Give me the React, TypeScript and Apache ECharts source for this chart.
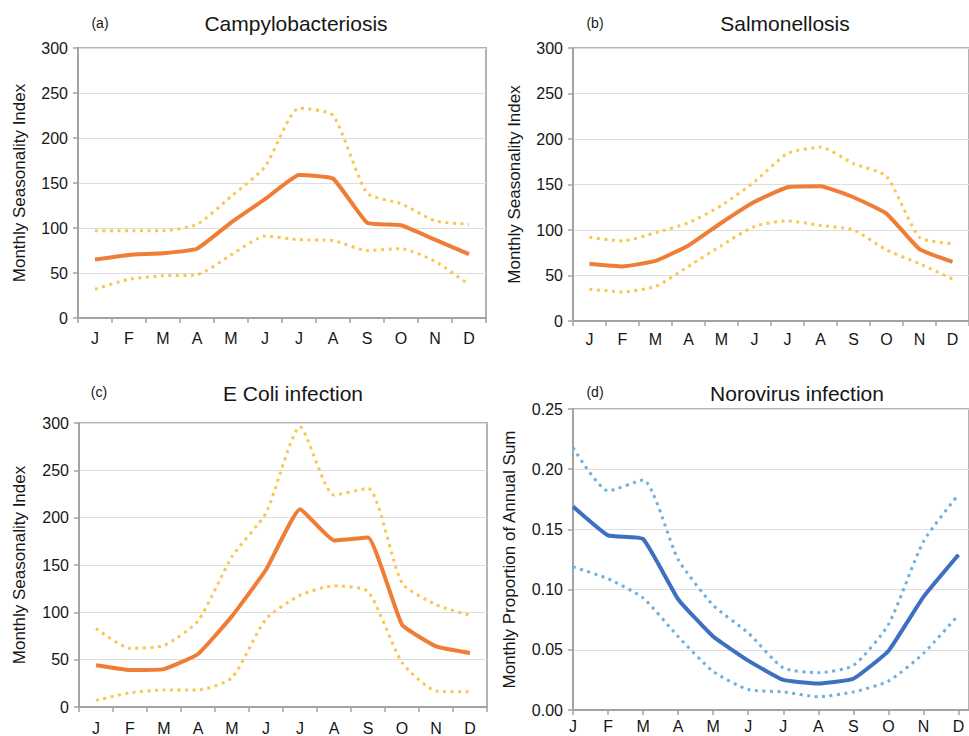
import React, { useEffect, useRef } from "react";
import * as echarts from "echarts";

const MONTHS = ["J", "F", "M", "A", "M", "J", "J", "A", "S", "O", "N", "D"];

const campyMean = [65, 70, 72, 77, 106, 132, 159, 155, 106, 103, 87, 71];
const campyUpper = [97, 97, 97, 104, 135, 168, 233, 225, 139, 127, 108, 104];
const campyLower = [32, 43, 47, 48, 70, 91, 87, 86, 75, 77, 63, 37];

const salmMean = [63, 60, 66, 83, 108, 131, 147, 148, 136, 118, 79, 65];
const salmUpper = [92, 88, 97, 108, 127, 153, 184, 191, 173, 159, 92, 85];
const salmLower = [35, 32, 38, 60, 83, 104, 110, 105, 100, 78, 63, 46];

const ecoliMean = [44, 39, 40, 56, 96, 145, 209, 176, 179, 87, 64, 57];
const ecoliUpper = [83, 62, 65, 91, 159, 205, 296, 224, 231, 131, 108, 97];
const ecoliLower = [7, 15, 18, 18, 31, 93, 118, 128, 122, 47, 17, 16];

const noroMean = [0.169, 0.145, 0.142, 0.092, 0.061, 0.041, 0.025, 0.022, 0.026, 0.049, 0.094, 0.129];
const noroUpper = [0.218, 0.182, 0.191, 0.125, 0.087, 0.064, 0.035, 0.031, 0.037, 0.071, 0.14, 0.179];
const noroLower = [0.119, 0.109, 0.093, 0.061, 0.032, 0.017, 0.015, 0.011, 0.015, 0.024, 0.047, 0.079];

const INDEX_TICKS = { min: 0, max: 300, interval: 50 };
const NORO_TICKS = { min: 0, max: 0.25, interval: 0.05 };

const FONT = "'Liberation Sans', Arial, sans-serif";
const ORANGE = "#EF7D35";
const YELLOW = "#FAC64E";
const BLUE = "#3D70C2";
const LIGHTBLUE = "#6CB1E2";
const AXIS = "#A3A3A3";
const GRIDLINE = "#DEDEDE";
const TEXT = "#161616";

export default function App() {
  const ref = useRef<HTMLDivElement>(null);

  useEffect(() => {
    if (!ref.current) return;
    const chart = echarts.init(ref.current, undefined, { renderer: "svg" });

    const grids = [
      { left: 78, top: 48, width: 408, height: 270 },
      { left: 573, top: 48, width: 408, height: 273 },
      { left: 79, top: 423, width: 408, height: 285 },
      { left: 573, top: 409, width: 400, height: 301 },
    ].map((g) => ({
      ...g,
      show: true,
      borderColor: "#B3B3B3",
      borderWidth: 2,
      backgroundColor: "transparent",
      containLabel: false,
    }));

    const labelMargins = [12, 10, 13, 8];
    const xAxes: any[] = [0, 1, 2].map((i) => ({
      type: "category",
      gridIndex: i,
      data: MONTHS,
      boundaryGap: true,
      axisLine: { lineStyle: { color: AXIS, width: 2 } },
      axisTick: { show: true, length: 5, lineStyle: { color: AXIS, width: 1.5 } },
      axisLabel: { color: TEXT, fontSize: 16, fontFamily: FONT, margin: labelMargins[i], interval: 0 },
      splitLine: { show: false },
    }));
    xAxes.push({
      type: "value",
      gridIndex: 3,
      min: 0,
      max: 11.3,
      interval: 1,
      axisLine: { lineStyle: { color: AXIS, width: 2 } },
      axisTick: { show: true, length: 5, lineStyle: { color: AXIS, width: 1.5 } },
      axisLabel: {
        color: TEXT,
        fontSize: 16,
        fontFamily: FONT,
        margin: labelMargins[3],
        showMaxLabel: false,
        formatter: (v: number) => (Number.isInteger(v) && v >= 0 && v < 12 ? MONTHS[v] : ""),
      },
      splitLine: { show: false },
    });

    const yNameGaps = [50, 50, 51, 55];
    const yAxes: any[] = [0, 1, 2, 3].map((i) => {
      const t = i === 3 ? NORO_TICKS : INDEX_TICKS;
      return {
        type: "value",
        gridIndex: i,
        min: t.min,
        max: t.max,
        interval: t.interval,
        name: i === 3 ? "Monthly Proportion of Annual Sum" : "Monthly Seasonality Index",
        nameLocation: "middle",
        nameGap: yNameGaps[i],
        nameTextStyle: { color: TEXT, fontSize: 17, fontFamily: FONT },
        axisLine: { show: true, lineStyle: { color: AXIS, width: 2 } },
        axisTick: { show: true, length: 5, lineStyle: { color: AXIS, width: 1.5 } },
        axisLabel: {
          color: TEXT,
          fontSize: 16,
          fontFamily: FONT,
          margin: 10,
          formatter: i === 3 ? (v: number) => v.toFixed(2) : (v: number) => String(v),
        },
        splitLine: { show: true, lineStyle: { color: GRIDLINE, width: 1 } },
      };
    });

    const panels = [
      { mean: campyMean, upper: campyUpper, lower: campyLower, c1: ORANGE, c2: YELLOW },
      { mean: salmMean, upper: salmUpper, lower: salmLower, c1: ORANGE, c2: YELLOW },
      { mean: ecoliMean, upper: ecoliUpper, lower: ecoliLower, c1: ORANGE, c2: YELLOW },
      { mean: noroMean, upper: noroUpper, lower: noroLower, c1: BLUE, c2: LIGHTBLUE },
    ];

    const series: any[] = [];
    panels.forEach((p, i) => {
      const toData = (arr: number[]) => (i === 3 ? arr.map((v, k) => [k, v]) : arr);
      const common = {
        type: "line",
        xAxisIndex: i,
        yAxisIndex: i,
        symbol: "none",
        silent: true,
      };
      series.push({
        ...common,
        data: toData(p.upper),
        smooth: 0.2,
        lineStyle: { color: p.c2, width: 3, type: [3, 4.5] },
      });
      series.push({
        ...common,
        data: toData(p.lower),
        smooth: 0.2,
        lineStyle: { color: p.c2, width: 3, type: [3, 4.5] },
      });
      series.push({
        ...common,
        data: toData(p.mean),
        smooth: 0.12,
        lineStyle: { color: p.c1, width: 4 },
        z: 3,
      });
    });

    const label = (text: string, x: number, y: number, size: number) => ({
      type: "text",
      x,
      y,
      style: {
        text,
        fill: TEXT,
        font: `${size}px ${FONT}`,
        textAlign: "center",
        textVerticalAlign: "middle",
        align: "center",
        verticalAlign: "middle",
      },
    });

    chart.setOption({
      animation: false,
      backgroundColor: "#ffffff",
      grid: grids,
      xAxis: xAxes,
      yAxis: yAxes,
      series,
      graphic: [
        label("(a)", 100, 23, 14),
        label("Campylobacteriosis", 296, 23, 21),
        label("(b)", 595, 23, 14),
        label("Salmonellosis", 785, 23, 21),
        label("(c)", 99, 392, 14),
        label("E Coli infection", 293, 393, 21),
        label("(d)", 595, 392, 14),
        label("Norovirus infection", 797, 393, 21),
      ],
    });

    return () => chart.dispose();
  }, []);

  return (
    <div
      ref={ref}
      style={{ position: "absolute", left: 0, top: 0, width: 969, height: 736, background: "#fff" }}
    />
  );
}
